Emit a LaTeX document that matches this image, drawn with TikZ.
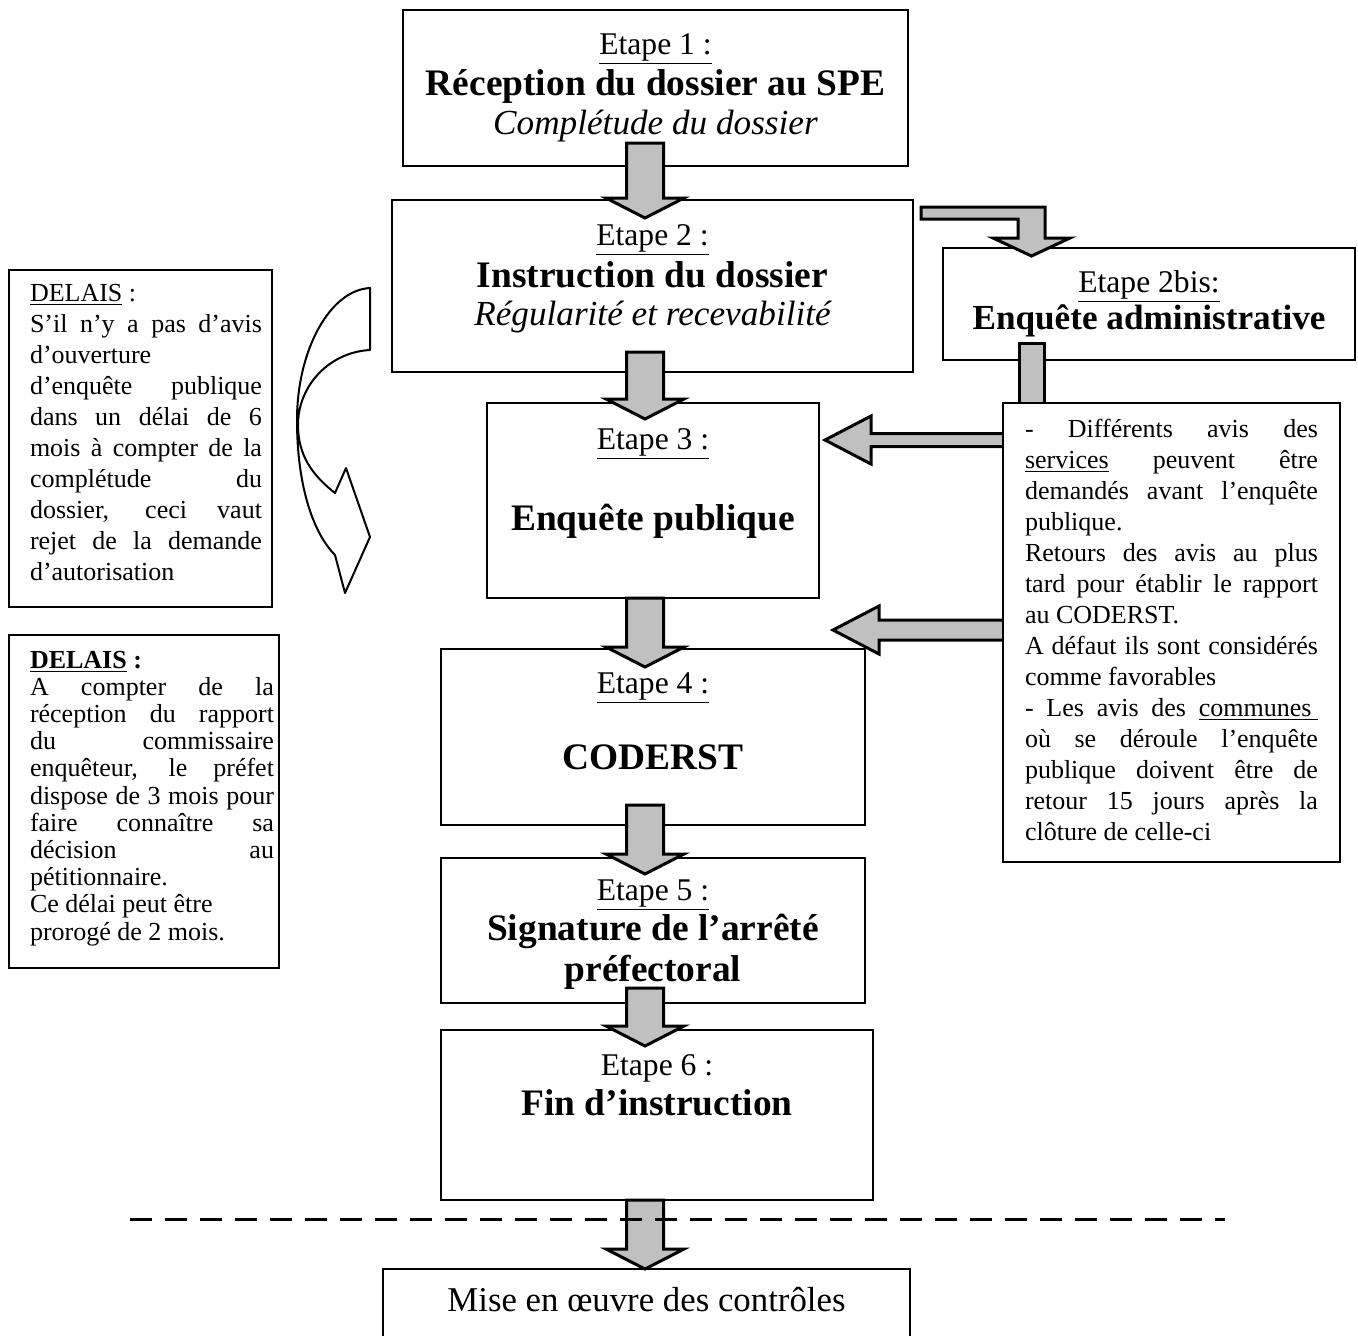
\documentclass[tikz,border=0pt]{standalone}
\usepackage{fontspec}
\setmainfont{Liberation Serif}
\usetikzlibrary{calc}

\definecolor{argent}{RGB}{192,192,192}
\newdimen\px \px=0.5pt

\newcommand{\etp}[1]{{\fontsize{15.8}{19}\selectfont #1}}
\newcommand{\ttl}[1]{{\fontsize{18.7}{20}\selectfont\bfseries #1}}
\newcommand{\stl}[1]{{\fontsize{17.6}{20}\selectfont\itshape #1}}
\newcommand{\justif}{\fontsize{13}{15.5}\selectfont\tolerance=10000\hbadness=10000\parindent=0pt}

\tikzset{
  stepbox/.style={draw=black, line width=0.7pt, fill=white, inner sep=0pt, outer sep=0pt},
  blockarrow/.style={draw=black, line width=1.5pt, fill=argent, line join=miter}
}

% fleche pleine vers le bas : depart, pointe
\newcommand{\flowdown}[2]{%
  \draw[blockarrow] let \p1=(#1), \p2=(#2) in
    (\x1-9.25pt,\y1) -- (\x1-9.25pt,\y2+10pt) -- (\x1-19.5pt,\y2+10pt) -- (\x1,\y2)
    -- (\x1+19.5pt,\y2+10pt) -- (\x1+9.25pt,\y2+10pt) -- (\x1+9.25pt,\y1) -- cycle;}
% fleche pleine vers la gauche : demi-largeur, depart, pointe
\newcommand{\flowleft}[3]{%
  \draw[blockarrow] let \p1=(#2), \p2=(#3) in
    (\x1,\y1+#1) -- (\x2+23pt,\y1+#1) -- (\x2+23pt,\y1+12pt) -- (\x2,\y1)
    -- (\x2+23pt,\y1-12pt) -- (\x2+23pt,\y1-#1) -- (\x1,\y1-#1) -- cycle;}

\begin{document}
\begin{tikzpicture}[x=0.5pt, y=-0.5pt]
\useasboundingbox (0,0) rectangle (1358,1335);

% etapes
\node[stepbox] (b1) at (655.5,88) {\parbox[c][156\px][t]{505\px}{\centering\fontsize{13}{19.5}\selectfont
  \rule{0pt}{22pt}\etp{\underline{Etape 1 :}}\\[1pt]
  \ttl{Réception du dossier au SPE}\\
  \stl{Complétude du dossier}}};
\node[stepbox] (b2) at (652.5,286) {\parbox[c][172\px][t]{521\px}{\centering\fontsize{13}{19.5}\selectfont
  \rule{0pt}{22.5pt}\etp{\underline{Etape 2 :}}\\[1.5pt]
  \ttl{Instruction du dossier}\\[-0.5pt]
  \stl{Régularité et recevabilité}}};
\node[stepbox] (b2bis) at (1149,304) {\parbox[c][112\px][t]{412\px}{\centering\fontsize{13}{19.5}\selectfont
  \rule{0pt}{22pt}\etp{\underline{Etape 2bis:}}\\[-1pt]
  {\fontsize{17.6}{20}\selectfont\bfseries Enquête administrative}}};
\node[stepbox] (b3) at (653,500.5) {\parbox[c][195\px][t]{332\px}{\centering\fontsize{13}{19.5}\selectfont
  \rule{0pt}{23pt}\etp{\underline{Etape 3 :}}\\[21pt]
  \ttl{Enquête publique}}};
\node[stepbox] (b4) at (653,737) {\parbox[c][176\px][t]{424\px}{\centering\fontsize{13}{19.5}\selectfont
  \rule{0pt}{22pt}\etp{\underline{Etape 4 :}}\\[18.5pt]
  \ttl{CODERST}}};
\node[stepbox] (b5) at (653,930.5) {\parbox[c][145\px][t]{424\px}{\centering\fontsize{13}{19.5}\selectfont
  \rule{0pt}{21pt}\etp{\underline{Etape 5 :}}\\[0.5pt]
  \ttl{Signature de l’arrêté}\\[1pt]
  \ttl{préfectoral}}};
\node[stepbox] (b6) at (657,1115) {\parbox[c][170\px][t]{432\px}{\centering\fontsize{13}{19.5}\selectfont
  \rule{0pt}{22.5pt}\etp{Etape 6 :}\\[0.5pt]
  \ttl{Fin d’instruction}}};
\node[stepbox] (b7) at (646.5,1307) {\parbox[c][76\px][t]{527\px}{\centering\fontsize{17.4}{20}\selectfont
  \rule{0pt}{21pt}Mise en œuvre des contrôles}};

% delais
\node[stepbox] (d1) at (140.5,438.5) {\parbox[c][337\px][t]{263\px}{\justif\leftskip=21\px\rightskip=10\px
  \rule{0pt}{15.5pt}\underline{DELAIS} :\\
  S’il n’y a pas d’avis\linebreak
  d’ouverture\linebreak
  d’enquête publique\linebreak
  dans un délai de 6\linebreak
  mois à compter de la\linebreak
  complétude du\linebreak
  dossier, ceci vaut\linebreak
  rejet de la demande\linebreak
  d’autorisation}};
\node[stepbox] (d2) at (144,801.5) {\parbox[c][333\px][t]{270\px}{\justif\baselineskip=13.6pt\leftskip=21\px\rightskip=5\px
  \rule{0pt}{16.5pt}\textbf{\underline{DELAIS} :}\\
  A compter de la\linebreak
  réception du rapport\linebreak
  du commissaire\linebreak
  enquêteur, le préfet\linebreak
  dispose de 3 mois pour\linebreak
  faire connaître sa\linebreak
  décision au\linebreak
  pétitionnaire.\\
  Ce délai peut être\\
  prorogé de 2 mois.}};

% fleche courbe
\draw[line width=1pt, line join=round] (370,288) .. controls (330,290) and (297,350) .. (297,420)
  .. controls (297,490) and (315,535) .. (335,555) -- (345,593) -- (370,537) -- (346,468) -- (335,493)
  .. controls (312,475) and (298,455) .. (298,425) .. controls (298,385) and (330,352) .. (370,350) -- cycle;

% fleches entre etapes
\coordinate (ax) at (645,0);
\coordinate (col) at (1031.5,0);
\flowdown{$(b1.south -| ax)+(0,-23)$}{$(b2.north -| ax)+(0,18)$}
\flowdown{$(b2.south -| ax)+(0,-20)$}{$(b3.north -| ax)+(0,16)$}
\flowdown{$(b3.south -| ax)$}{$(b4.north -| ax)+(0,18)$}
\flowdown{$(b4.south -| ax)+(0,-20)$}{$(b5.north -| ax)+(0,16)$}
\flowdown{$(b5.south -| ax)+(0,-15)$}{$(b6.north -| ax)+(0,16)$}
\flowdown{$(b6.south -| ax)$}{$(b7.north -| ax)$}

% vers l'enquete administrative
\draw[blockarrow] let \p1=($(b2.north east)+(8,13)$), \p2=($(b2bis.north -| col)+(0,8)$) in
  (\x1,\y1+3pt) -- (\x2+6.75pt,\y1+3pt) -- (\x2+6.75pt,\y2+9pt) -- (\x2+19.25pt,\y2+9pt)
  -- (\x2,\y2) -- (\x2-19.25pt,\y2+9pt) -- (\x2-6.75pt,\y2+9pt) -- (\x2-6.75pt,\y1-3pt)
  -- (\x1,\y1-3pt) -- cycle;

% avis des services
\node[stepbox, draw=none, fill=none] (rr) at (1171.5,632.5) {\parbox[c][459\px][t]{337\px}{}};
\draw[blockarrow] ($(b2bis.south -| col)+(-12.5,-17)$) rectangle ($(rr.north -| col)+(12.5,0)$);
\coordinate (h1) at ($(rr.north west)+(0,37)$);
\coordinate (h2) at ($(rr.north west)+(0,227)$);
\flowleft{3.25pt}{h1}{$(b3.east |- h1)+(6,0)$}
\flowleft{5pt}{h2}{$(b4.north east |- h2)+(-32,0)$}

% separation
\draw[line width=1.5pt, dash pattern=on 11pt off 6.5pt] (130,1219) -- (1225,1219);

\node[stepbox] (r) at (rr) {\parbox[c][459\px][t]{337\px}{\justif\leftskip=22\px\rightskip=22\px
  \rule{0pt}{17pt}- Différents avis des\linebreak
  \underline{services} peuvent être\linebreak
  demandés avant l’enquête\linebreak
  publique.\\
  Retours des avis au plus\linebreak
  tard pour établir le rapport\linebreak
  au CODERST.\\
  A défaut ils sont considérés\linebreak
  comme favorables\\
  - Les avis des \underline{communes\ }\linebreak
  où se déroule l’enquête\linebreak
  publique doivent être de\linebreak
  retour 15 jours après la\linebreak
  clôture de celle-ci}};
\end{tikzpicture}
\end{document}
